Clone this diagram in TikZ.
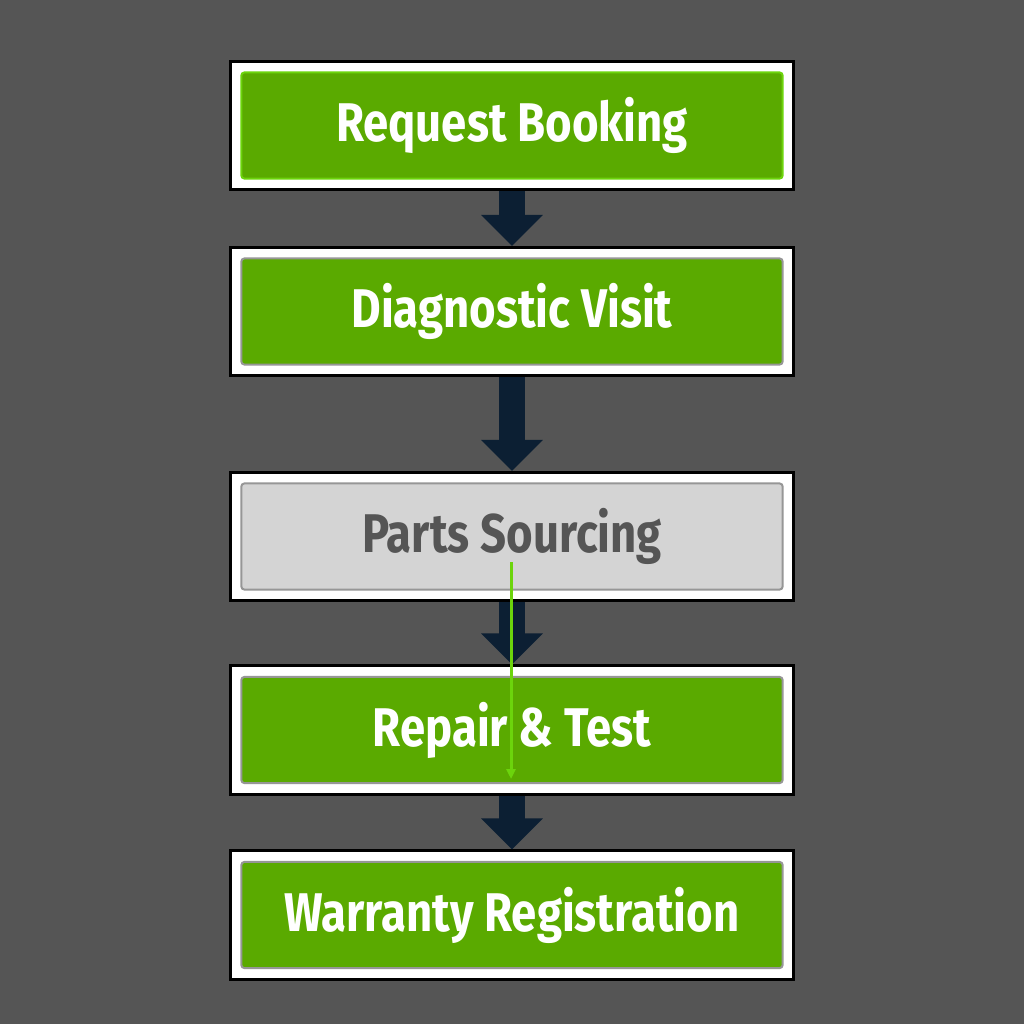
\documentclass[tikz,border=0pt]{standalone}
\usepackage{fontspec}
\newfontfamily\stepfont{Fira Sans}[FakeStretch=0.835]
\usetikzlibrary{arrows.meta}
\usetikzlibrary{positioning}

\definecolor{bgGray}{RGB}{85,85,85}
\definecolor{stepGreen}{RGB}{90,170,0}
\definecolor{lineGreen}{RGB}{108,212,12}
\definecolor{rimGray}{RGB}{150,150,150}
\definecolor{idleGray}{RGB}{212,212,212}
\definecolor{textGray}{RGB}{85,85,85}
\definecolor{arrowNavy}{RGB}{12,31,51}

\begin{document}
\begin{tikzpicture}[
  x=0.01cm, y=-0.01cm,
  frame/.style = {draw=black,fill=white,line width=0.03cm,minimum width=5.63cm,minimum height=1.28cm,inner sep=0pt},
  stepbox/.style = {draw=rimGray,fill=stepGreen,line width=0.02cm,rounded corners=0.03cm,
    minimum width=5.41cm,minimum height=1.06cm,inner sep=0pt,text=white,
    font=\stepfont\bfseries\fontsize{15.5}{18}\selectfont},
  idle/.style = {stepbox,fill=idleGray,text=textGray},
  flow/.style = {draw=arrowNavy,line width=0.25cm,-{Triangle[width=0.6cm,length=0.31cm]}},
  thin flow/.style = {draw=lineGreen,line width=0.03cm,-{Triangle[width=0.09cm,length=0.1cm]}}
  ]
	\useasboundingbox (0,0) rectangle (1024,1024);
	\fill[bgGray] (0,0) rectangle (1024,1024);

	% outer frames
	\node[frame] (b1) at (512,125.5) {};
	\node[frame] (b2) at (512,311.5) {};
	\node[frame] (b3) at (512,536.5) {};
	\node[frame] (b4) at (512,730) {};
	\node[frame] (b5) at (512,915) {};

	% steps
	\node[stepbox,draw=lineGreen] (s1) at (b1) {Request Booking};
	\node[stepbox] (s2) at (b2) {Diagnostic Visit};
	\node[idle] (s3) at (b3) {Parts Sourcing};
	\node[stepbox] (s4) at (b4) {Repair \& Test};
	\node[stepbox] (s5) at (b5) {Warranty Registration};

	% arrows
	\draw[flow] (b1.south) -- (b2.north);
	\draw[flow] (b2.south) -- (b3.north);
	\draw[flow] (b3.south) -- (b4.north);
	\draw[flow] (b4.south) -- (b5.north);

	\coordinate (g1) at (511,562);
	\coordinate (g2) at (511,779);
	\draw[thin flow] (g1) -- (g2);

\end{tikzpicture}
\end{document}
